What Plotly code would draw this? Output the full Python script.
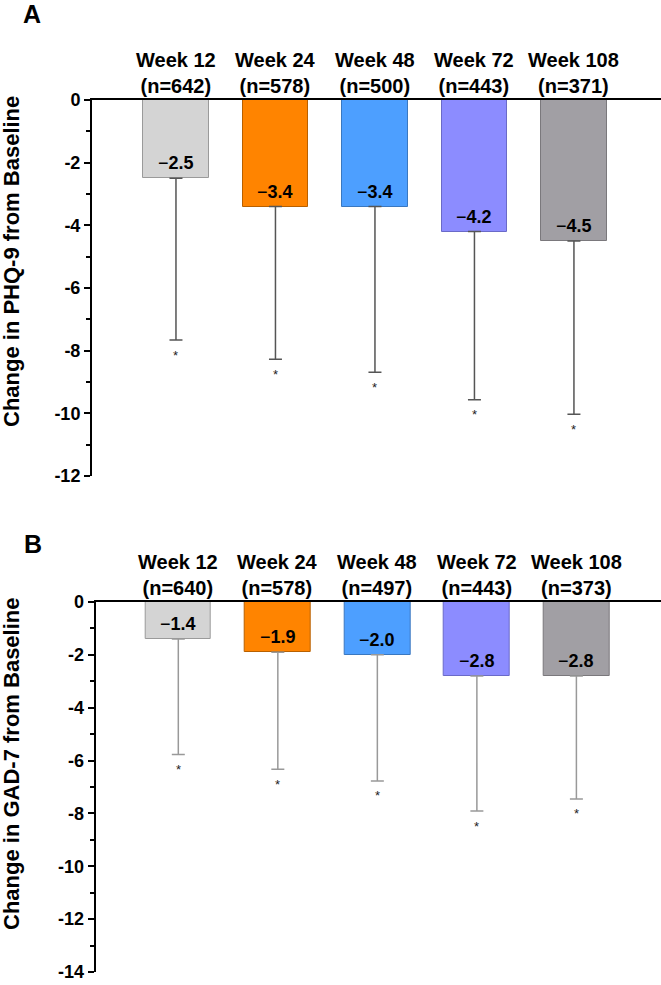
import plotly.graph_objects as go

# ---------------- data ----------------
weeks = ["Week 12", "Week 24", "Week 48", "Week 72", "Week 108"]
bar_colors = ["#d4d4d4", "#ff8400", "#4d9fff", "#8c8cff", "#a19fa4"]
bar_edges = ["#9a9a9a", "#b86000", "#3a78c0", "#6a6ac8", "#7a787c"]

phq_n = [642, 578, 500, 443, 371]
phq_mean = [-2.5, -3.4, -3.4, -4.2, -4.5]
phq_low = [-7.66, -8.27, -8.69, -9.57, -10.03]
phq_ticks = [0, -2, -4, -6, -8, -10, -12]

gad_n = [640, 578, 497, 443, 373]
gad_mean = [-1.4, -1.9, -2.0, -2.8, -2.8]
gad_low = [-5.77, -6.33, -6.77, -7.91, -7.45]
gad_ticks = [0, -2, -4, -6, -8, -10, -12, -14]

W, H = 661, 985
FONT = "Liberation Sans, Arial, sans-serif"

x_pos = list(range(len(weeks)))

fig = go.Figure()


def add_panel(mean, low, ns, xa, ya, err_color):
    fig.add_trace(go.Bar(
        x=x_pos, y=mean, width=0.66,
        marker=dict(color=bar_colors, line=dict(color=bar_edges, width=1)),
        error_y=dict(type="data", symmetric=False,
                     array=[0] * len(mean),
                     arrayminus=[m - l for m, l in zip(mean, low)],
                     color=err_color, thickness=1.5, width=6.5),
        xaxis=xa, yaxis=ya, showlegend=False, hoverinfo="skip",
    ))
    for i, (m, l, n) in enumerate(zip(mean, low, ns)):
        # value labels
        fig.add_annotation(x=i, y=m, xref=xa, yref=ya, text="\u2212<b>%.1f</b>" % abs(m),
                           showarrow=False, yshift=15, yanchor="middle",
                           font=dict(family=FONT, size=18, color="#000"))
        # category labels above axis
        fig.add_annotation(x=i, y=0, xref=xa, yref=ya,
                           text="<b>%s</b><br><b>(n=%d)</b>" % (weeks[i], n),
                           showarrow=False, yanchor="bottom", yshift=1,
                           font=dict(family=FONT, size=20, color="#000"))
        # stars
        fig.add_annotation(x=i, y=l, xref=xa, yref=ya, text="*",
                           showarrow=False, yanchor="middle", yshift=-15,
                           font=dict(family=FONT, size=13, color="#222"))


add_panel(phq_mean, phq_low, phq_n, "x", "y", "#555555")
add_panel(gad_mean, gad_low, gad_n, "x2", "y2", "#999999")

yax_common = dict(
    showline=True, linecolor="#000", linewidth=2, ticks="outside", ticklen=6,
    tickwidth=2, tickcolor="#000", showgrid=False, zeroline=False,
    tickfont=dict(family=FONT, size=18, color="#000", weight="bold"),
    minor=dict(dtick=1, ticks="outside", ticklen=4, tickwidth=2, tickcolor="#000"),
    mirror=False, automargin=False, tickmode="array", ticklabeloverflow="allow",
)
xax_common = dict(
    showline=True, linecolor="#000", linewidth=2, side="top", showticklabels=False,
    ticks="", showgrid=False, zeroline=False, automargin=False,
)

fig.update_layout(
    width=W, height=H, margin=dict(l=0, r=0, t=0, b=0, autoexpand=False),
    paper_bgcolor="white", plot_bgcolor="white",
    bargap=0,
    xaxis=dict(domain=[92 / W, 1.0], range=[-0.844, 4.875], anchor="y", **xax_common),
    yaxis=dict(domain=[1 - 476 / H, 1 - 100 / H], range=[-12, 0], anchor="x",
               tickvals=phq_ticks, ticktext=[str(t) for t in phq_ticks], **yax_common),
    xaxis2=dict(domain=[95.7 / W, 1.0], range=[-0.83, 4.85], anchor="y2", **xax_common),
    yaxis2=dict(domain=[1 - 972 / H, 1 - 602 / H], range=[-14, 0], anchor="x2",
                tickvals=gad_ticks, ticktext=[str(t) for t in gad_ticks], **yax_common),
)

# y-axis titles
fig.add_annotation(x=11 / W, y=1 - 262 / H, xref="paper", yref="paper",
                   text="<b>Change in PHQ-9 from Baseline</b>", textangle=-90,
                   showarrow=False, xanchor="center", yanchor="middle",
                   font=dict(family=FONT, size=22, color="#000"))
fig.add_annotation(x=11 / W, y=1 - 764 / H, xref="paper", yref="paper",
                   text="<b>Change in GAD-7 from Baseline</b>", textangle=-90,
                   showarrow=False, xanchor="center", yanchor="middle",
                   font=dict(family=FONT, size=22, color="#000"))

# panel letters
fig.add_annotation(x=32 / W, y=1 - 14 / H, xref="paper", yref="paper", text="<b>A</b>",
                   showarrow=False, xanchor="center", yanchor="middle",
                   font=dict(family=FONT, size=25, color="#000"))
fig.add_annotation(x=33 / W, y=1 - 544 / H, xref="paper", yref="paper", text="<b>B</b>",
                   showarrow=False, xanchor="center", yanchor="middle",
                   font=dict(family=FONT, size=25, color="#000"))

fig.write_html("out.html", config={"displayModeBar": False},
               post_script="document.body.style.margin='0';document.body.style.overflow='hidden';")
